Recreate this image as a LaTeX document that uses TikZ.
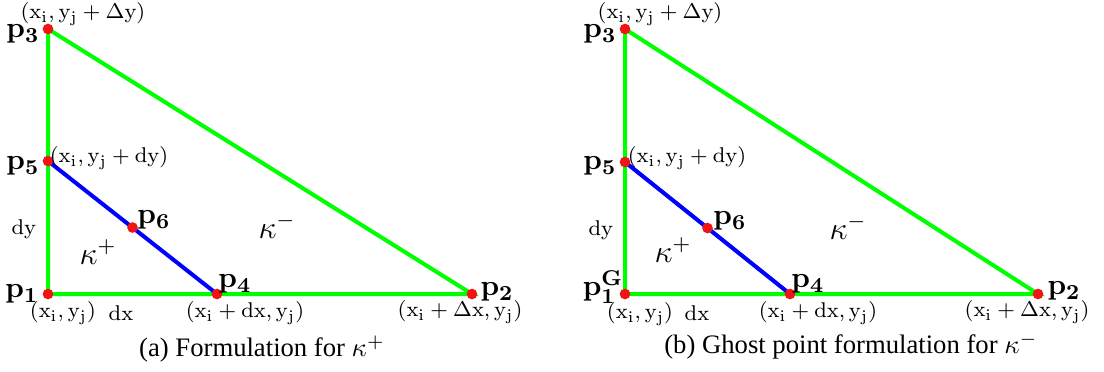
\documentclass[tikz,border=0pt]{standalone}
\usepackage[no-math]{fontspec}
\newfontfamily\capfont{Liberation Serif}
\definecolor{lgreen}{RGB}{0,255,0}
\definecolor{lblue}{RGB}{0,0,255}
\definecolor{lred}{RGB}{240,20,20}
\begin{document}
\begin{tikzpicture}[x=0.375pt,y=-0.375pt,
  dot/.style={circle,fill=lred,inner sep=0pt,minimum size=4pt},
  gline/.style={draw=lgreen,line width=1.5pt},
  bline/.style={draw=lblue,line width=1.5pt},
  plab/.style={inner sep=0pt,font=\fontsize{10.8}{13}\selectfont},
  clab/.style={inner sep=0pt,font=\fontsize{8.2}{10}\selectfont},
  klab/.style={inner sep=0pt,font=\fontsize{12}{14}\selectfont},
  captext/.style={inner sep=0pt,font=\capfont\fontsize{10}{12}\selectfont}]
\useasboundingbox (0,0) rectangle (1104,371);
% ---------- left panel ----------
\coordinate (a1) at (48,294);
\coordinate (a2) at (472,294);
\coordinate (a3) at (48,29);
\coordinate (a4) at (217,294);
\coordinate (a5) at (48,161);
\coordinate (a6) at (132.5,227.5);
\draw[gline] (a1) -- (a2) -- (a3) -- cycle;
\draw[bline] (a5) -- (a4);
\foreach \p in {a1,a2,a3,a4,a5,a6} \node[dot] (d\p) at (\p) {};
\node[plab] (la3) at (23,34) {$\mathbf{p_3}$};
\node[clab] (ca3) at (83,14) {$\mathrm{(x_i, y_j + \Delta y)}$};
\node[plab] (la5) at (23,166) {$\mathbf{p_5}$};
\node[clab] (ca5) at (109,158) {$\mathrm{(x_i, y_j + dy)}$};
\node[clab] (ady) at (24,229) {$\mathrm{dy}$};
\node[klab] (akp) at (98,252) {$\kappa^+$};
\node[plab] (la6) at (154,220) {$\mathbf{p_6}$};
\node[klab] (akm) at (277,226) {$\kappa^-$};
\node[plab] (la1) at (22,294) {$\mathbf{p_1}$};
\node[clab] (ca1) at (63,313) {$\mathrm{(x_i, y_j)}$};
\node[clab] (adx) at (121,313) {$\mathrm{dx}$};
\node[plab] (la4) at (235,284) {$\mathbf{p_4}$};
\node[clab] (ca4) at (245,313) {$\mathrm{(x_i + dx, y_j)}$};
\node[plab,anchor=west] (la2) at (480,292) {$\mathbf{p_2}$};
\node[clab] (ca2) at (460,312) {$\mathrm{(x_i + \Delta x, y_j)}$};
\node[captext] (capa) at (262,349) {(a) Formulation for $\kappa^+$};
% ---------- right panel ----------
\coordinate (b1) at (625,294);
\coordinate (b2) at (1038,294);
\coordinate (b3) at (625,29);
\coordinate (b4) at (790,294);
\coordinate (b5) at (625,162);
\coordinate (b6) at (707.5,228);
\draw[gline] (b1) -- (b2) -- (b3) -- cycle;
\draw[bline] (b5) -- (b4);
\foreach \p in {b1,b2,b3,b4,b5,b6} \node[dot] (d\p) at (\p) {};
\node[plab] (lb3) at (600,34) {$\mathbf{p_3}$};
\node[clab] (cb3) at (660,14) {$\mathrm{(x_i, y_j + \Delta y)}$};
\node[plab] (lb5) at (600,166) {$\mathbf{p_5}$};
\node[clab] (cb5) at (687,158) {$\mathrm{(x_i, y_j + dy)}$};
\node[clab] (bdy) at (601,230) {$\mathrm{dy}$};
\node[klab] (bkp) at (673,250) {$\kappa^+$};
\node[plab] (lb6) at (730,221) {$\mathbf{p_6}$};
\node[klab] (bkm) at (848,227) {$\kappa^-$};
\node[plab] (lb1) at (603,287) {$\mathbf{p_1^G}$};
\node[clab] (cb1) at (640,314) {$\mathrm{(x_i, y_j)}$};
\node[clab] (bdx) at (697,313) {$\mathrm{dx}$};
\node[plab] (lb4) at (808,284) {$\mathbf{p_4}$};
\node[clab] (cb4) at (818,313) {$\mathrm{(x_i + dx, y_j)}$};
\node[plab,anchor=west] (lb2) at (1047,291) {$\mathbf{p_2}$};
\node[clab] (cb2) at (1027,312) {$\mathrm{(x_i + \Delta x, y_j)}$};
\node[captext] (capb) at (851,346) {(b) Ghost point formulation for $\kappa^-$};
\end{tikzpicture}
\end{document}
